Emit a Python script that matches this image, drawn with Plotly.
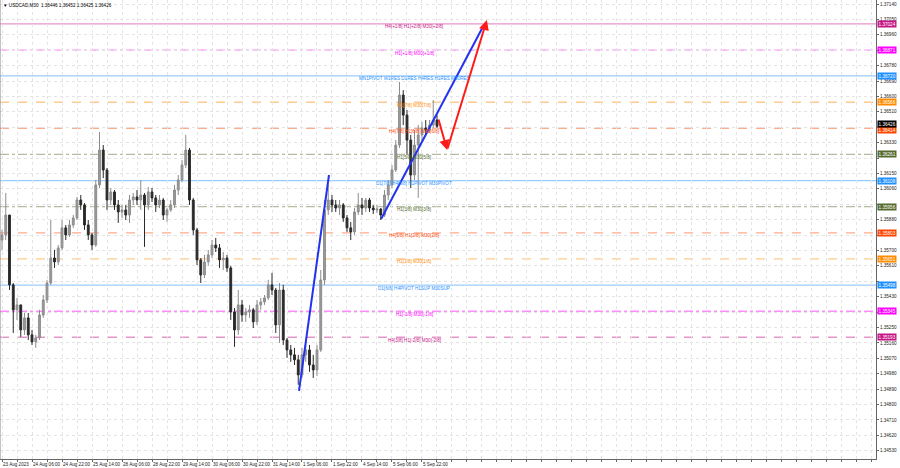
import plotly.graph_objects as go

# ---------------- data (USDCAD; one candle per ~2h) ----------------
opens = [1.35761, 1.35791, 1.35907, 1.35499, 1.35353, 1.35382, 1.35236, 1.35306, 1.35207, 1.35166,
         1.35189, 1.35323, 1.35411, 1.35510, 1.35656, 1.35633, 1.35715, 1.35832, 1.35791, 1.35849,
         1.35890, 1.35995, 1.35966, 1.35849, 1.35791, 1.35732, 1.36083, 1.36287, 1.36170, 1.35995,
         1.36042, 1.35966, 1.35925, 1.35937, 1.35907, 1.35995, 1.36013, 1.35995, 1.36024, 1.35966,
         1.36042, 1.36007, 1.35966, 1.35995, 1.35907, 1.35937, 1.35966, 1.36053, 1.36112, 1.36199,
         1.36287, 1.35995, 1.35820, 1.35645, 1.35557, 1.35633, 1.35674, 1.35732, 1.35715, 1.35645,
         1.35656, 1.35598, 1.35341, 1.35236, 1.35382, 1.35323, 1.35341, 1.35353, 1.35283, 1.35382,
         1.35399, 1.35423, 1.35499, 1.35469, 1.35265, 1.35469, 1.35177, 1.35119, 1.35090, 1.35061,
         1.34973, 1.35090, 1.35119, 1.35031, 1.35002, 1.35119, 1.35528, 1.35937, 1.35995, 1.35966,
         1.35948, 1.35966, 1.35890, 1.35832, 1.35808, 1.35925, 1.35966, 1.35948, 1.35995, 1.35948,
         1.35937, 1.35942, 1.35907, 1.36024, 1.36083, 1.36170, 1.36316, 1.36608, 1.36491, 1.36345,
         1.36141, 1.36316, 1.36375, 1.36416, 1.36404, 1.36433, 1.36462]
highs = [1.35820, 1.36036, 1.35907, 1.35510, 1.35423, 1.35382, 1.35335, 1.35335, 1.35236, 1.35207,
         1.35353, 1.35440, 1.35528, 1.35878, 1.35703, 1.35732, 1.35878, 1.35849, 1.35878, 1.35907,
         1.36013, 1.36024, 1.35977, 1.35878, 1.35802, 1.36112, 1.36392, 1.36316, 1.36182, 1.36065,
         1.36053, 1.35995, 1.35966, 1.35966, 1.36024, 1.36036, 1.36053, 1.36112, 1.36036, 1.36071,
         1.36065, 1.36024, 1.36024, 1.36007, 1.35948, 1.35995, 1.36083, 1.36141, 1.36229, 1.36375,
         1.36299, 1.36007, 1.35832, 1.35656, 1.35674, 1.35703, 1.35761, 1.35773, 1.35738, 1.35691,
         1.35674, 1.35610, 1.35364, 1.35469, 1.35411, 1.35364, 1.35382, 1.35364, 1.35411, 1.35423,
         1.35440, 1.35528, 1.35569, 1.35481, 1.35510, 1.35499, 1.35189, 1.35148, 1.35131, 1.35090,
         1.35131, 1.35166, 1.35148, 1.35090, 1.35148, 1.35586, 1.35995, 1.36083, 1.36024, 1.35995,
         1.35995, 1.35977, 1.35907, 1.35867, 1.35948, 1.36036, 1.36007, 1.36007, 1.36007, 1.35966,
         1.35966, 1.35948, 1.36053, 1.36112, 1.36199, 1.36345, 1.36684, 1.36637, 1.36521, 1.36375,
         1.36404, 1.36433, 1.36451, 1.36462, 1.36462, 1.36579, 1.36491]
lows = [1.35703, 1.35761, 1.35469, 1.35218, 1.35294, 1.35195, 1.35207, 1.35177, 1.35148, 1.35131,
        1.35177, 1.35306, 1.35393, 1.35499, 1.35598, 1.35615, 1.35703, 1.35761, 1.35779, 1.35832,
        1.35878, 1.35937, 1.35820, 1.35761, 1.35703, 1.35721, 1.36065, 1.36123, 1.35937, 1.35966,
        1.35937, 1.35861, 1.35890, 1.35878, 1.35861, 1.35966, 1.35966, 1.35937, 1.35721, 1.35937,
        1.35983, 1.35925, 1.35948, 1.35878, 1.35867, 1.35925, 1.35948, 1.36024, 1.36100, 1.36182,
        1.35966, 1.35791, 1.35615, 1.35510, 1.35539, 1.35610, 1.35656, 1.35691, 1.35598, 1.35586,
        1.35575, 1.35294, 1.35137, 1.35207, 1.35283, 1.35283, 1.35306, 1.35247, 1.35265, 1.35353,
        1.35382, 1.35411, 1.35440, 1.35218, 1.35160, 1.35148, 1.35072, 1.35049, 1.35031, 1.34915,
        1.34955, 1.35049, 1.34991, 1.34955, 1.34967, 1.35107, 1.35499, 1.35907, 1.35925, 1.35925,
        1.35907, 1.35867, 1.35808, 1.35761, 1.35791, 1.35907, 1.35907, 1.35925, 1.35925, 1.35913,
        1.35919, 1.35878, 1.35896, 1.35995, 1.36065, 1.36159, 1.36299, 1.36433, 1.36258, 1.36065,
        1.36112, 1.36007, 1.36334, 1.36375, 1.36386, 1.36416, 1.36416]
closes = [1.35791, 1.35907, 1.35499, 1.35353, 1.35382, 1.35236, 1.35306, 1.35207, 1.35166, 1.35189,
          1.35323, 1.35411, 1.35510, 1.35656, 1.35633, 1.35715, 1.35832, 1.35791, 1.35849, 1.35890,
          1.35995, 1.35966, 1.35849, 1.35791, 1.35732, 1.36083, 1.36287, 1.36170, 1.35995, 1.36042,
          1.35966, 1.35925, 1.35937, 1.35907, 1.35995, 1.36013, 1.35995, 1.36024, 1.35966, 1.36042,
          1.36007, 1.35966, 1.35995, 1.35907, 1.35937, 1.35966, 1.36053, 1.36112, 1.36199, 1.36287,
          1.35995, 1.35820, 1.35645, 1.35557, 1.35633, 1.35674, 1.35732, 1.35715, 1.35645, 1.35656,
          1.35598, 1.35341, 1.35236, 1.35382, 1.35323, 1.35341, 1.35353, 1.35283, 1.35382, 1.35399,
          1.35423, 1.35499, 1.35469, 1.35265, 1.35469, 1.35177, 1.35119, 1.35090, 1.35061, 1.34973,
          1.35090, 1.35119, 1.35031, 1.35002, 1.35119, 1.35528, 1.35937, 1.35995, 1.35966, 1.35948,
          1.35966, 1.35890, 1.35832, 1.35808, 1.35925, 1.35966, 1.35948, 1.35995, 1.35948, 1.35937,
          1.35942, 1.35907, 1.36024, 1.36083, 1.36170, 1.36316, 1.36608, 1.36491, 1.36345, 1.36141,
          1.36316, 1.36375, 1.36416, 1.36404, 1.36433, 1.36462, 1.36426]

time_labels = ["23 Aug 2023", "24 Aug 06:00", "24 Aug 22:00", "25 Aug 14:00", "28 Aug 06:00",
               "28 Aug 22:00", "29 Aug 14:00", "30 Aug 06:00", "30 Aug 22:00", "31 Aug 14:00",
               "1 Sep 06:00", "1 Sep 22:00", "4 Sep 14:00", "5 Sep 06:00", "5 Sep 22:00"]
bars_per_label = 8
bars_per_grid = 4

price_ticks = [1.34530, 1.34620, 1.34710, 1.34800, 1.34890, 1.34980, 1.35070, 1.35160, 1.35250, 1.35340,
               1.35430, 1.35520, 1.35610, 1.35700, 1.35790, 1.35880, 1.35970, 1.36060, 1.36150, 1.36240,
               1.36330, 1.36420, 1.36510, 1.36600, 1.36690, 1.36780, 1.36870, 1.36960, 1.37050, 1.37140]

level_prices = [1.37024, 1.36871, 1.36720, 1.36566, 1.36414, 1.36261, 1.36108,
                1.35956, 1.35803, 1.35651, 1.35498, 1.35345, 1.35193]
level_texts = ["H4[+1/8] H1[+2/8] M30[+2/8]", "H1[+1/8] M30[+1/8]",
               "MN1PIVOT W1RES D1RES H4RES H1RES M30RES", "H1[7/8] M30[7/8]",
               "H4[7/8] H1[6/8] M30[6/8]", "H1[5/8] M30[5/8]",
               "D1[7/8] H4[6/8] H1PIVOT M30PIVOT", "H1[3/8] M30[3/8]",
               "H4[5/8] H1[2/8] M30[2/8]", "H1[1/8] M30[1/8]",
               "D1[6/8] H4PIVOT H1SUP M30SUP", "H1[-1/8] M30[-1/8]",
               "H4[3/8] H1[-2/8] M30[-2/8]"]
level_colors = ["199,21,133", "255,0,255", "30,144,255", "255,140,0", "255,69,0", "85,107,47",
                "30,144,255", "85,107,47", "255,69,0", "255,140,0", "30,144,255", "255,0,255",
                "199,21,133"]
level_dashes = ["solid", "dashdot", "solid", "dash", "dash", "dashdot", "solid",
                "dashdot", "dash", "dash", "solid", "dashdot", "dash"]

bid_price = 1.36426

# analyst drawings (bar index, price)
blue_lines = [([79.2, 87.2], [1.34880, 1.36141]),
              ([101.1, 128.5], [1.35884, 1.37017])]
red_arrows = [((116.3, 1.36474), (118.7, 1.36287)),
              ((118.7, 1.36287), (129.3, 1.37046))]
level_text_x = 110

# ---------------- figure ----------------
FONT = "Liberation Sans, Arial, sans-serif"
FS = 4.6
x_idx = list(range(len(opens)))

fig = go.Figure()
fig.add_trace(go.Candlestick(
    x=x_idx, open=opens, high=highs, low=lows, close=closes,
    increasing=dict(line=dict(color="#8c8c8c", width=1), fillcolor="#9a9a9a"),
    decreasing=dict(line=dict(color="#2a2a2a", width=1), fillcolor="#2a2a2a"),
    whiskerwidth=0, showlegend=False, hoverinfo="skip"))

for xs, ys in blue_lines:
    fig.add_trace(go.Scatter(x=xs, y=ys, mode="lines", line=dict(color="#2233ee", width=2),
                             showlegend=False, hoverinfo="skip"))

shapes = []
annotations = []
for p, t, c, d in zip(level_prices, level_texts, level_colors, level_dashes):
    shapes.append(dict(type="line", xref="paper", x0=0, x1=1, yref="y", y0=p, y1=p,
                       line=dict(color=f"rgba({c},0.45)", width=1.3, dash=d), layer="below"))
    annotations.append(dict(x=level_text_x, y=p, xref="x", yref="y", text=t, showarrow=False,
                            yshift=-3, font=dict(family=FONT, size=FS, color=f"rgb({c})")))
    annotations.append(dict(x=1, y=p, xref="paper", yref="y", text=f"{p:.5f}", showarrow=False,
                            xanchor="left", xshift=1, yshift=(-2 if t.startswith("H4[7/8]") else 0),
                            bgcolor=f"rgb({c})", borderpad=0.6,
                            font=dict(family=FONT, size=FS, color="white")))

annotations.append(dict(x=1, y=bid_price, xref="paper", yref="y", text=f"{bid_price:.5f}",
                        showarrow=False, xanchor="left", xshift=1, yshift=2.5, bgcolor="black",
                        borderpad=0.6, font=dict(family=FONT, size=FS, color="white")))

for (x0, y0), (x1, y1) in red_arrows:
    annotations.append(dict(x=x1, y=y1, ax=x0, ay=y0, xref="x", yref="y", axref="x", ayref="y",
                            showarrow=True, arrowhead=2, arrowsize=1, arrowwidth=2,
                            arrowcolor="#ff1a1a", text=""))

annotations.append(dict(x=0, y=1, xref="paper", yref="paper", xanchor="left", yanchor="top",
                        xshift=1, yshift=-1, showarrow=False,
                        text="▼ USDCAD,M30&nbsp;&nbsp;1.36446 1.36452 1.36425 1.36426",
                        font=dict(family=FONT, size=FS, color="black")))

shapes.append(dict(type="line", xref="paper", yref="paper", x0=0, x1=0, y0=0, y1=1,
                   line=dict(color="#888888", width=1)))

tickvals = list(range(0, 233, bars_per_grid))
ticktext = []
for v in tickvals:
    k = v // bars_per_label
    if v % bars_per_label == 0 and k < len(time_labels):
        ticktext.append(time_labels[k])
    else:
        ticktext.append("")

# price tick labels hidden where a coloured price label covers them (as in the terminal)
covered = level_prices + [bid_price]
ytext = []
for v in price_ticks:
    ytext.append("" if min(abs(v - c) for c in covered) < 0.00025 else f"{v:.5f}")

fig.update_layout(
    width=900, height=468, autosize=False,
    margin=dict(l=0, r=24, t=0, b=9, autoexpand=False),
    paper_bgcolor="white", plot_bgcolor="white",
    shapes=shapes, annotations=annotations,
    font=dict(family=FONT, size=FS, color="black"),
    xaxis=dict(range=[-0.533, 233.07], tickmode="array", tickvals=tickvals, ticktext=ticktext,
               ticklabelposition="outside right", tickangle=0, automargin=False,
               ticks="outside", ticklen=2, tickcolor="#666",
               tickfont=dict(family=FONT, size=FS, color="#222"),
               showgrid=True, gridcolor="#e4e4e4", griddash="dot", gridwidth=1,
               showline=True, linecolor="#666", zeroline=False,
               rangeslider=dict(visible=False), fixedrange=True),
    yaxis=dict(side="right", range=[1.344816, 1.371634], tickmode="array", tickvals=price_ticks,
               ticktext=ytext, ticks="outside", ticklen=2, automargin=False,
               tickcolor="#666", tickfont=dict(family=FONT, size=FS, color="#222"),
               showgrid=True, gridcolor="#e4e4e4", griddash="dot", gridwidth=1,
               showline=True, linecolor="#666", zeroline=False, fixedrange=True),
)

fig.write_html("out.html", config={"displayModeBar": False},
               post_script="document.body.style.margin='0';document.body.style.overflow='hidden';")
